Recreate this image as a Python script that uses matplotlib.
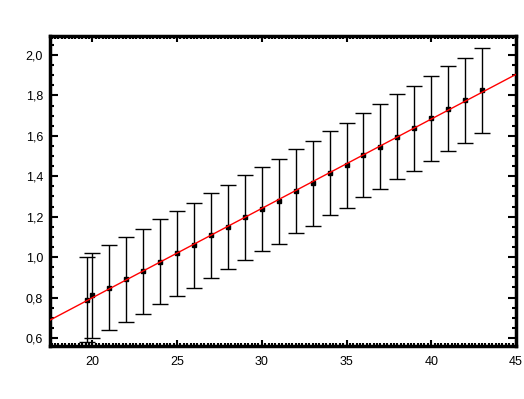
import numpy as np
import matplotlib
matplotlib.use('Agg')
import matplotlib.pyplot as plt
from matplotlib.ticker import MultipleLocator, FuncFormatter

# values
x_vals = [19.7, 20, 21, 22, 23, 24, 25, 26, 27, 28, 29, 30, 31, 32, 33,
          34, 35, 36, 37, 38, 39, 40, 41, 42, 43]
y_vals = [0.79, 0.81, 0.848, 0.89, 0.929, 0.977, 1.018, 1.058, 1.107, 1.149,
          1.197, 1.238, 1.277, 1.327, 1.366, 1.416, 1.455, 1.505, 1.546,
          1.596, 1.637, 1.687, 1.734, 1.776, 1.825]
y_err = [0.21] * len(x_vals)

plt.rcParams['font.family'] = ['Liberation Sans', 'DejaVu Sans']

fig = plt.figure(figsize=(5.24, 3.99), dpi=100)
ax = fig.add_axes([0.0954, 0.1328, 0.8893, 0.777])

# error bars with square markers
ax.errorbar(x_vals, y_vals, yerr=y_err, fmt='s', color='black', ms=3,
            ecolor='black', elinewidth=1.0, capsize=5.8, capthick=1.0, zorder=2)

# linear fit across the whole axis
coef = np.polyfit(x_vals, y_vals, 1)
xl = np.array([17.5, 45])
ax.plot(xl, np.polyval(coef, xl), color='red', lw=1, zorder=3)

ax.set_xlim(17.5, 45)
ax.set_ylim(0.56, 2.094)

ax.xaxis.set_major_locator(MultipleLocator(5))
ax.xaxis.set_minor_locator(MultipleLocator(0.2))
ax.yaxis.set_major_locator(MultipleLocator(0.2))
ax.yaxis.set_minor_locator(MultipleLocator(0.05))
ax.yaxis.set_major_formatter(FuncFormatter(lambda v, p: f"{v:.1f}".replace('.', ',')))

ax.tick_params(which='both', direction='in', top=True, right=True,
               labelsize=9, width=1.5, colors='black')
ax.tick_params(axis='x', which='major', length=4.5, pad=7)
ax.tick_params(axis='x', which='minor', length=2.2)
ax.tick_params(axis='y', which='major', length=6, pad=5)
ax.tick_params(axis='y', which='minor', length=3)

for s in ax.spines.values():
    s.set_linewidth(2.5)

fig.savefig('out.png', dpi=100)
